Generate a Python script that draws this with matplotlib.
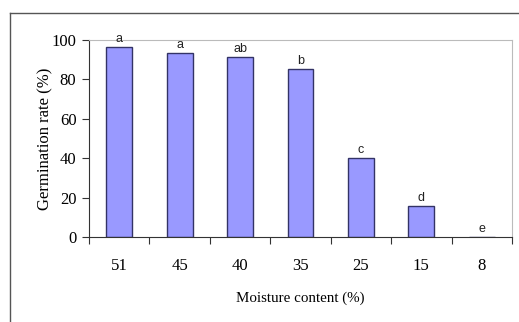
import matplotlib.pyplot as plt
from matplotlib.lines import Line2D

moisture = ['51', '45', '40', '35', '25', '15', '8']
germination = [96.3, 93.2, 91.2, 85.3, 40.1, 15.7, 0]
letters = ['a', 'a', 'ab', 'b', 'c', 'd', 'e']

W, H = 519, 322
fig = plt.figure(figsize=(W / 100, H / 100), dpi=100)
ax = fig.add_axes([89 / W, 1 - 237 / H, (512 - 89) / W, (237 - 40) / H])

x = range(len(moisture))
ax.bar(x, germination, width=0.43, color='#9999ff', edgecolor='#333366', linewidth=1.0)
for i, (v, lab) in enumerate(zip(germination, letters)):
    ax.text(i, v + 1.2, lab, ha='center', va='bottom', fontsize=9,
            family='Liberation Sans', color='#222222')

ax.set_xlim(-0.5, len(moisture) - 0.5)
ax.set_ylim(0, 100)
ax.set_yticks([0, 20, 40, 60, 80, 100])
ax.set_xticks([i - 0.5 for i in range(len(moisture) + 1)], minor=False)
ax.set_xticklabels([])
ax.set_xticks(list(x), minor=True)
ax.set_xticklabels(moisture, minor=True)
ax.tick_params(axis='x', which='major', direction='out', length=5, color='#333333')
ax.tick_params(axis='x', which='minor', length=0, pad=15)
ax.tick_params(axis='y', direction='out', length=5, color='#333333', pad=4)
for lab in ax.get_xticklabels(minor=True) + ax.get_yticklabels():
    lab.set_family('Liberation Serif')
    lab.set_fontsize(12)

ax.spines['left'].set_color('#333333')
ax.spines['bottom'].set_color('#333333')
ax.spines['top'].set_color('#bbbbbb')
ax.spines['right'].set_color('#bbbbbb')

ax.set_xlabel('Moisture content (%)', family='Liberation Serif', fontsize=10.8, labelpad=13)
ax.set_ylabel('Germination rate (%)', family='Liberation Serif', fontsize=12, labelpad=-1)

# outer frame
fig.add_artist(Line2D([10 / W, 10 / W], [0, 1 - 13 / H], transform=fig.transFigure,
                      color='#555555', linewidth=1.0))
fig.add_artist(Line2D([10 / W, 1], [1 - 13 / H, 1 - 13 / H], transform=fig.transFigure,
                      color='#555555', linewidth=1.0))

fig.savefig('out.png', dpi=100)
